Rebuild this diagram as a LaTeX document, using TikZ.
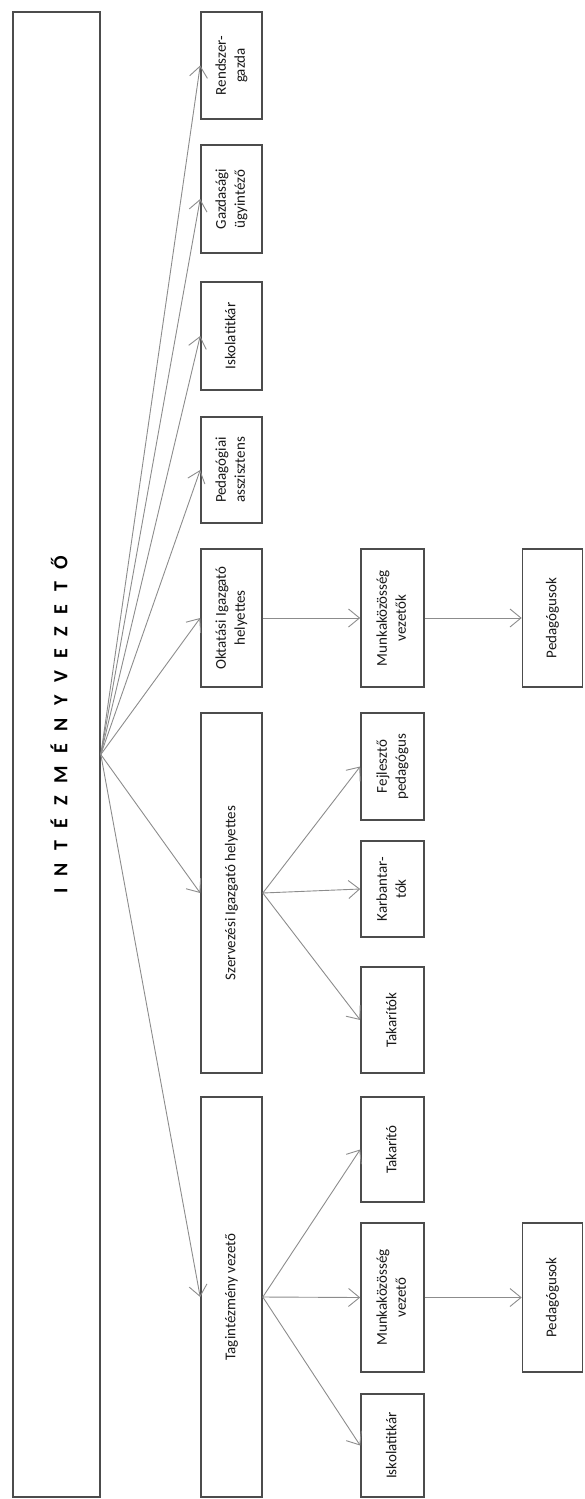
\documentclass[tikz,border=0pt]{standalone}
\usepackage{fontspec}
\usepackage{graphicx}
\setmainfont{Carlito}
\usetikzlibrary{arrows.meta}
\newcommand{\vtext}[1]{\rotatebox{90}{\begin{tabular}{@{}c@{}}#1\end{tabular}}}

\begin{document}
\begin{tikzpicture}[x=1pt, y=-1pt, font=\fontsize{15}{19}\selectfont, box/.style={draw=black!70, line width=1.6pt, fill=white, text=black!90, inner sep=0pt, minimum width=61pt}, arr/.style={-{Straight Barb[length=11pt,width=18pt]}, draw=black!45, line width=0.9pt}]
\useasboundingbox (0,0) rectangle (584,1499);
\node[box, minimum width=87pt, minimum height=1485pt] (ivez) at (56.5,754.5) {};
\node[font=\fontsize{20}{22}\selectfont\bfseries] (cim) at (59,725) {\rotatebox{90}{\spaceskip=12.5pt I N T É Z M É N Y V E Z E T Ő}};
\node[box, minimum height=107pt] (rg) at (231.5,65.5) {\vtext{Rendszer-\\gazda}};
\node[box, minimum height=108pt] (gu) at (231.5,199) {\vtext{Gazdasági\\ügyintéző}};
\node[box, minimum height=108pt] (ik1) at (231.5,336) {\vtext{Iskolatitkár}};
\node[box, minimum height=106pt] (pa) at (231.5,470) {\vtext{Pedagógiai\\asszisztens}};
\node[box, minimum height=138pt] (oi) at (231.5,618) {\vtext{Oktatási Igazgató\\helyettes}};
\node[box, minimum height=360pt] (sz) at (231.5,893) {\vtext{Szervezési Igazgató helyettes}};
\node[box, minimum height=400pt] (tv) at (231.5,1297) {\vtext{Tagintézmény vezető}};
\node[box, minimum width=63pt, minimum height=138pt] (mv) at (392.5,618) {\vtext{Munkaközösség\\vezetők}};
\node[box, minimum width=63pt, minimum height=107pt] (fp) at (392.5,766.5) {\vtext{Fejlesztő\\pedagógus}};
\node[box, minimum width=63pt, minimum height=96pt] (kb) at (392.5,889) {\vtext{Karbantar-\\tók}};
\node[box, minimum width=63pt, minimum height=106pt] (tk) at (392.5,1020) {\vtext{Takarítók}};
\node[box, minimum width=63pt, minimum height=105pt] (to) at (392.5,1149.5) {\vtext{Takarító}};
\node[box, minimum width=63pt, minimum height=149pt] (mv2) at (392.5,1297.5) {\vtext{Munkaközösség\\vezető}};
\node[box, minimum width=63pt, minimum height=103pt] (ik2) at (392.5,1445.5) {\vtext{Iskolatitkár}};
\node[box, minimum width=60pt, minimum height=138pt] (pg1) at (552.5,618) {\vtext{Pedagógusok}};
\node[box, minimum width=60pt, minimum height=149pt] (pg2) at (552.5,1297.5) {\vtext{Pedagógusok}};
\foreach \n in {rg,gu,ik1,pa,oi,sz,tv}
  \draw[arr] (ivez.east) -- (\n.west);
\foreach \n in {fp,kb,tk}
  \draw[arr] (sz.east) -- (\n.west);
\foreach \n in {to,mv2,ik2}
  \draw[arr] (tv.east) -- (\n.west);
\draw[arr] (oi) -- (mv);
\draw[arr] (mv) -- (pg1);
\draw[arr] (mv2) -- (pg2);
\end{tikzpicture}
\end{document}
